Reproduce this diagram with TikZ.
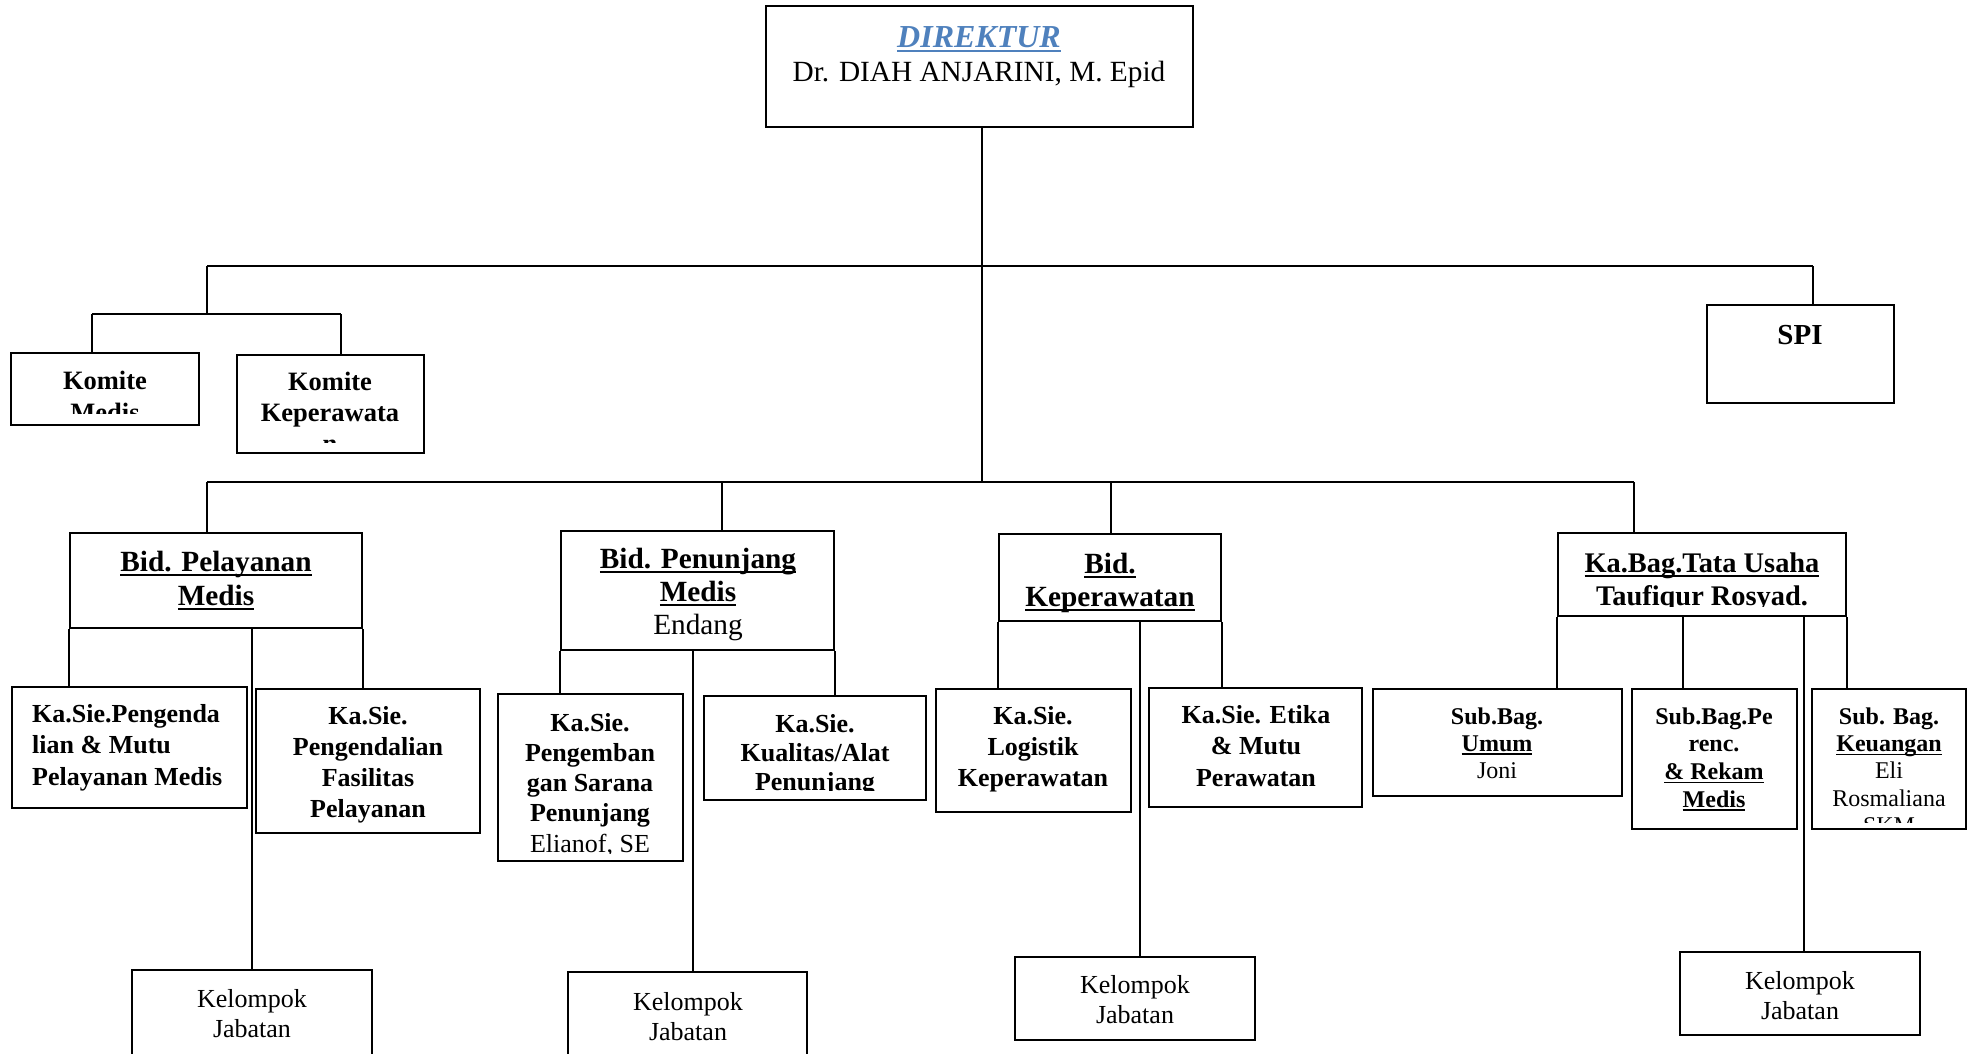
\documentclass[tikz,border=0pt]{standalone}
\usepackage{fontspec}
\setmainfont{Liberation Serif}
\usetikzlibrary{fit}
\definecolor{dirblue}{HTML}{4F81BD}
\newcommand\fsz[2]{\fontsize{#1pt}{#2pt}\selectfont}
\newcommand\uln[1]{\setbox0\hbox{#1}\rlap{\vrule height -0.09em depth 0.16em width \wd0}\box0}
\newcommand\lines[2][c]{\begin{tabular}[t]{@{}#1@{}}#2\end{tabular}}
\newcommand\obox[5]{\node[box, fit={(#2,#3) (#4,#5)}] (#1) {};}
% name, x1, y1, x2, clip-bottom, cx, baseline, font, content
\newcommand\ctext[9]{\begin{scope}\clip (#2,#3) rectangle (#4,#5);
  \node[txt, font={#8}, anchor=base] (#1) at (#6,#7) {\lines{#9}};\end{scope}}
\tikzset{
  box/.style={draw, line width=2.2pt, inner sep=0pt, rectangle},
  txt/.style={inner sep=0pt},
  conn/.style={line width=2.2pt}
}
\begin{document}
\begin{tikzpicture}[x=1pt,y=-1pt]
\useasboundingbox (0,0) rectangle (1975,1053);
\clip (0,0) rectangle (1975,1053);
\fill[white] (0,0) rectangle (1975,1053);

% ---- boxes ----
\obox{dir}{766}{6}{1193}{127}
\obox{km}{11}{353}{199}{425}
\obox{kk}{237}{355}{424}{453}
\obox{spi}{1707}{305}{1894}{403}
\obox{bpm}{70}{533}{362}{628}
\obox{bpn}{561}{531}{834}{650}
\obox{bkp}{999}{534}{1221}{621}
\obox{kbg}{1558}{533}{1846}{616}
\obox{s1}{12}{687}{247}{808}
\obox{s2}{256}{689}{480}{833}
\obox{s3}{498}{694}{683}{861}
\obox{s4}{704}{696}{926}{800}
\obox{s5}{936}{689}{1131}{812}
\obox{s6}{1149}{688}{1362}{807}
\obox{u}{1373}{689}{1622}{796}
\obox{p}{1632}{689}{1797}{829}
\obox{k}{1812}{689}{1966}{829}
\obox{kj1}{132}{970}{372}{1090}
\obox{kj2}{568}{972}{807}{1090}
\obox{kj3}{1015}{957}{1255}{1040}
\obox{kj4}{1680}{952}{1920}{1035}

% ---- texts ----
\node[txt, anchor=base, font={\fsz{32}{34}\bfseries\itshape}, text=dirblue] (dirt1) at (979,47) {\uln{DIREKTUR}};
\node[txt, anchor=base, font={\fsz{29.3}{34}}] (dirt2) at (979,81) {Dr. DIAH ANJARINI, M. Epid};

\ctext{kmt}{11}{353}{199}{413}{105}{389}{\fsz{26.5}{32}\bfseries}{Komite\\Medis}
\ctext{kkt}{237}{355}{424}{442}{330}{390}{\fsz{26.5}{31}\bfseries}{Komite\\Keperawata\\n}
\ctext{spit}{1707}{305}{1894}{403}{1800}{344}{\fsz{29}{32}\bfseries}{SPI}

\ctext{bpmt}{70}{533}{362}{628}{216}{571}{\fsz{29.3}{34}\bfseries}{\uln{Bid. Pelayanan}\\\uln{Medis}}
\ctext{bpnt}{561}{531}{834}{650}{698}{568}{\fsz{29.3}{33}\bfseries}{\uln{Bid. Penunjang}\\\uln{Medis}\\{\mdseries Endang}}
\ctext{bkpt}{999}{534}{1221}{621}{1110}{573}{\fsz{29.3}{33}\bfseries}{\uln{Bid.}\\\uln{Keperawatan}}
\ctext{kbgt}{1558}{533}{1846}{606}{1702}{572}{\fsz{28.4}{33}\bfseries}{\uln{Ka.Bag.Tata Usaha}\\Taufiqur Rosyad.}

\begin{scope}\clip (12,687) rectangle (247,803);
\node[txt, font={\fsz{26}{31.5}\bfseries}, anchor=base west] (s1t) at (32,722) {\lines[l]{Ka.Sie.Pengenda\\lian \& Mutu\\Pelayanan Medis}};
\end{scope}
\ctext{s2t}{256}{689}{480}{833}{368}{724.5}{\fsz{26}{31}\bfseries}{Ka.Sie.\\Pengendalian\\Fasilitas\\Pelayanan}
\ctext{s3t}{498}{694}{683}{853}{590}{731}{\fsz{26}{30.3}\bfseries}{Ka.Sie.\\Pengemban\\gan Sarana\\Penunjang\\{\mdseries Elianof, SE}}
\ctext{s4t}{704}{696}{926}{790}{815}{732}{\fsz{26}{29}\bfseries}{Ka.Sie.\\Kualitas/Alat\\Penunjang}
\ctext{s5t}{936}{689}{1131}{803}{1033}{724.5}{\fsz{26}{31}\bfseries}{Ka.Sie.\\Logistik\\Keperawatan}
\ctext{s6t}{1149}{688}{1362}{807}{1256}{723}{\fsz{26}{31.5}\bfseries}{Ka.Sie. Etika\\\& Mutu\\Perawatan}

\ctext{ut}{1373}{689}{1622}{796}{1497}{724}{\fsz{24}{27.3}\bfseries}{Sub.Bag.\\\uln{Umum}\\{\mdseries Joni}}
\ctext{pt}{1632}{689}{1797}{817}{1714}{724}{\fsz{24}{27.7}\bfseries}{Sub.Bag.Pe\\renc.\\\uln{\& Rekam}\\\uln{Medis}}
\ctext{kt}{1812}{689}{1966}{822}{1889}{724}{\fsz{24}{27.4}\bfseries}{Sub. Bag.\\\uln{Keuangan}\\{\mdseries Eli}\\{\mdseries Rosmaliana}\\{\mdseries SKM}}

\ctext{kj1t}{132}{970}{372}{1090}{252}{1007}{\fsz{26}{30}}{Kelompok\\Jabatan}
\ctext{kj2t}{568}{972}{807}{1090}{688}{1010}{\fsz{26}{30}}{Kelompok\\Jabatan}
\ctext{kj3t}{1015}{957}{1255}{1040}{1135}{993}{\fsz{26}{30}}{Kelompok\\Jabatan}
\ctext{kj4t}{1680}{952}{1920}{1035}{1800}{989.5}{\fsz{26}{30}}{Kelompok\\Jabatan}

% ---- connectors ----
\coordinate (b1) at (982,266);
\coordinate (b2) at (982,482);
\coordinate (b1L) at (207,266);
\coordinate (b1R) at (1813,266);
\coordinate (kb) at (207,314);
\coordinate (kbL) at (92,314);
\coordinate (kbR) at (341,314);
\coordinate (b2L) at (207,482);
\coordinate (b2R) at (1634,482);
\coordinate (d2) at (722,482);
\coordinate (d3) at (1111,482);
\coordinate (v1) at (252,0);
\coordinate (v2) at (693,0);
\coordinate (v3) at (1140,0);
\coordinate (v4) at (1683,0);
\coordinate (v5) at (1804,0);

\draw[conn] (dir.south -| b1) -- (b2);
\draw[conn] (b1L) -- (b1R);
\draw[conn] (b1R) -- (b1R |- spi.north);
\draw[conn] (b1L) -- (kb);
\draw[conn] (kbL) -- (kbR);
\draw[conn] (kbL) -- (kbL |- km.north);
\draw[conn] (kbR) -- (kbR |- kk.north);

\draw[conn] (b2L) -- (b2R);
\draw[conn] (b2L) -- (b2L |- bpm.north);
\draw[conn] (d2) -- (d2 |- bpn.north);
\draw[conn] (d3) -- (d3 |- bkp.north);
\draw[conn] (b2R) -- (b2R |- kbg.north);

\draw[conn] (bpm.south west) -- (bpm.south west |- s1.north);
\draw[conn] (v1 |- bpm.south) -- (v1 |- kj1.north);
\draw[conn] (bpm.south east) -- (bpm.south east |- s2.north);

\draw[conn] (bpn.south west) -- (bpn.south west |- s3.north);
\draw[conn] (v2 |- bpn.south) -- (v2 |- kj2.north);
\draw[conn] (bpn.south east) -- (bpn.south east |- s4.north);

\draw[conn] (bkp.south west) -- (bkp.south west |- s5.north);
\draw[conn] (v3 |- bkp.south) -- (v3 |- kj3.north);
\draw[conn] (bkp.south east) -- (bkp.south east |- s6.north);

\draw[conn] (kbg.south west) -- (kbg.south west |- u.north);
\draw[conn] (v4 |- kbg.south) -- (v4 |- p.north);
\draw[conn] (v5 |- kbg.south) -- (v5 |- kj4.north);
\draw[conn] (kbg.south east) -- (kbg.south east |- k.north);
\end{tikzpicture}
\end{document}
